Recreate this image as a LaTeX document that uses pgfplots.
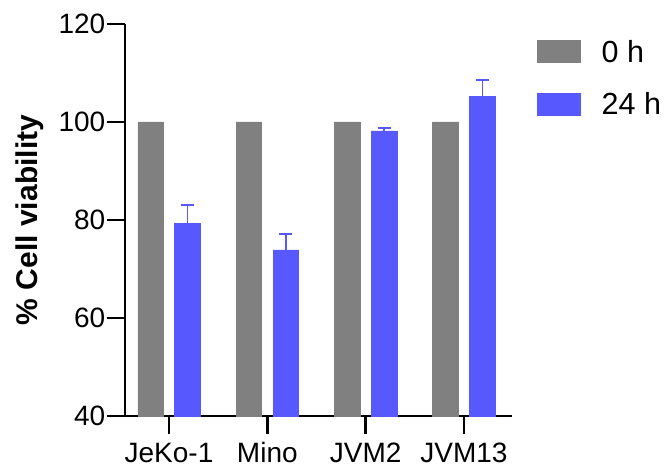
\documentclass[border=0pt]{standalone}
\usepackage{fontspec}
\setmainfont{Liberation Sans}
\usepackage{pgfplots}
\pgfplotsset{compat=1.18}
\definecolor{bargrey}{HTML}{808080}
\definecolor{barblue}{HTML}{5858FF}
\begin{document}
\begin{tikzpicture}
\begin{axis}[
  scale only axis, width=387bp, height=392bp,
  ybar, bar width=0.26,
  xmin=-0.448, xmax=3.489, ymin=40, ymax=120,
  axis lines*=left,
  axis line style={line width=2.6bp, black},
  ytick={40,60,80,100,120},
  xtick={0,1,2,3},
  xticklabels={JeKo-1,Mino,JVM2,JVM13},
  tick align=outside,
  major tick length=18bp,
  tick style={line width=2.6bp, black},
  ticklabel style={font=\fontsize{28bp}{33bp}\selectfont},
  yticklabel style={inner sep=1.5bp},
  xticklabel style={inner sep=0pt, text height=20bp, text depth=6bp, yshift=-8bp},
  /pgf/number format/assume math mode=true,
  ylabel={\% Cell viability},
  ylabel style={font=\bfseries\fontsize{30bp}{36bp}\selectfont, at={(rel axis cs:-0.2455,0.5)}, anchor=center, inner sep=0pt},
  legend style={draw=none, fill=none, at={(rel axis cs:1.0646,0.9594)}, anchor=north west, inner sep=0pt, row sep=29.5bp, column sep=21bp, font=\fontsize{30.5bp}{36bp}\selectfont, nodes={inner sep=0pt, text height=22bp, text depth=1bp}},
  legend cell align=left,
  legend image code/.code={\fill[#1] (0bp,-11bp) rectangle (43bp,11bp);},
]
\coordinate (O) at (rel axis cs:0,0);
\addplot[bar shift=-0.188, fill=bargrey, draw=bargrey, line width=0.5bp]
  coordinates {(0,100) (1,100) (2,100) (3,100)};
\addlegendentry{0 h}
\addplot[bar shift=0.188, fill=barblue, draw=barblue, line width=0.5bp,
  error bars/.cd, y dir=plus, y explicit,
  error bar style={line width=1.8bp, draw=barblue},
  error mark options={rotate=90, line width=1.8bp, draw=barblue, mark size=6.5bp}]
  coordinates {(0,79.3) +- (0,3.8) (1,73.9) +- (0,3.3) (2,98.2) +- (0,0.6) (3,105.2) +- (0,3.3)};
\addlegendentry{24 h}
\end{axis}
\pgfresetboundingbox
\path[use as bounding box] (O) ++(-125bp,-52bp) rectangle ++(669bp,468bp);
\end{tikzpicture}
\end{document}
